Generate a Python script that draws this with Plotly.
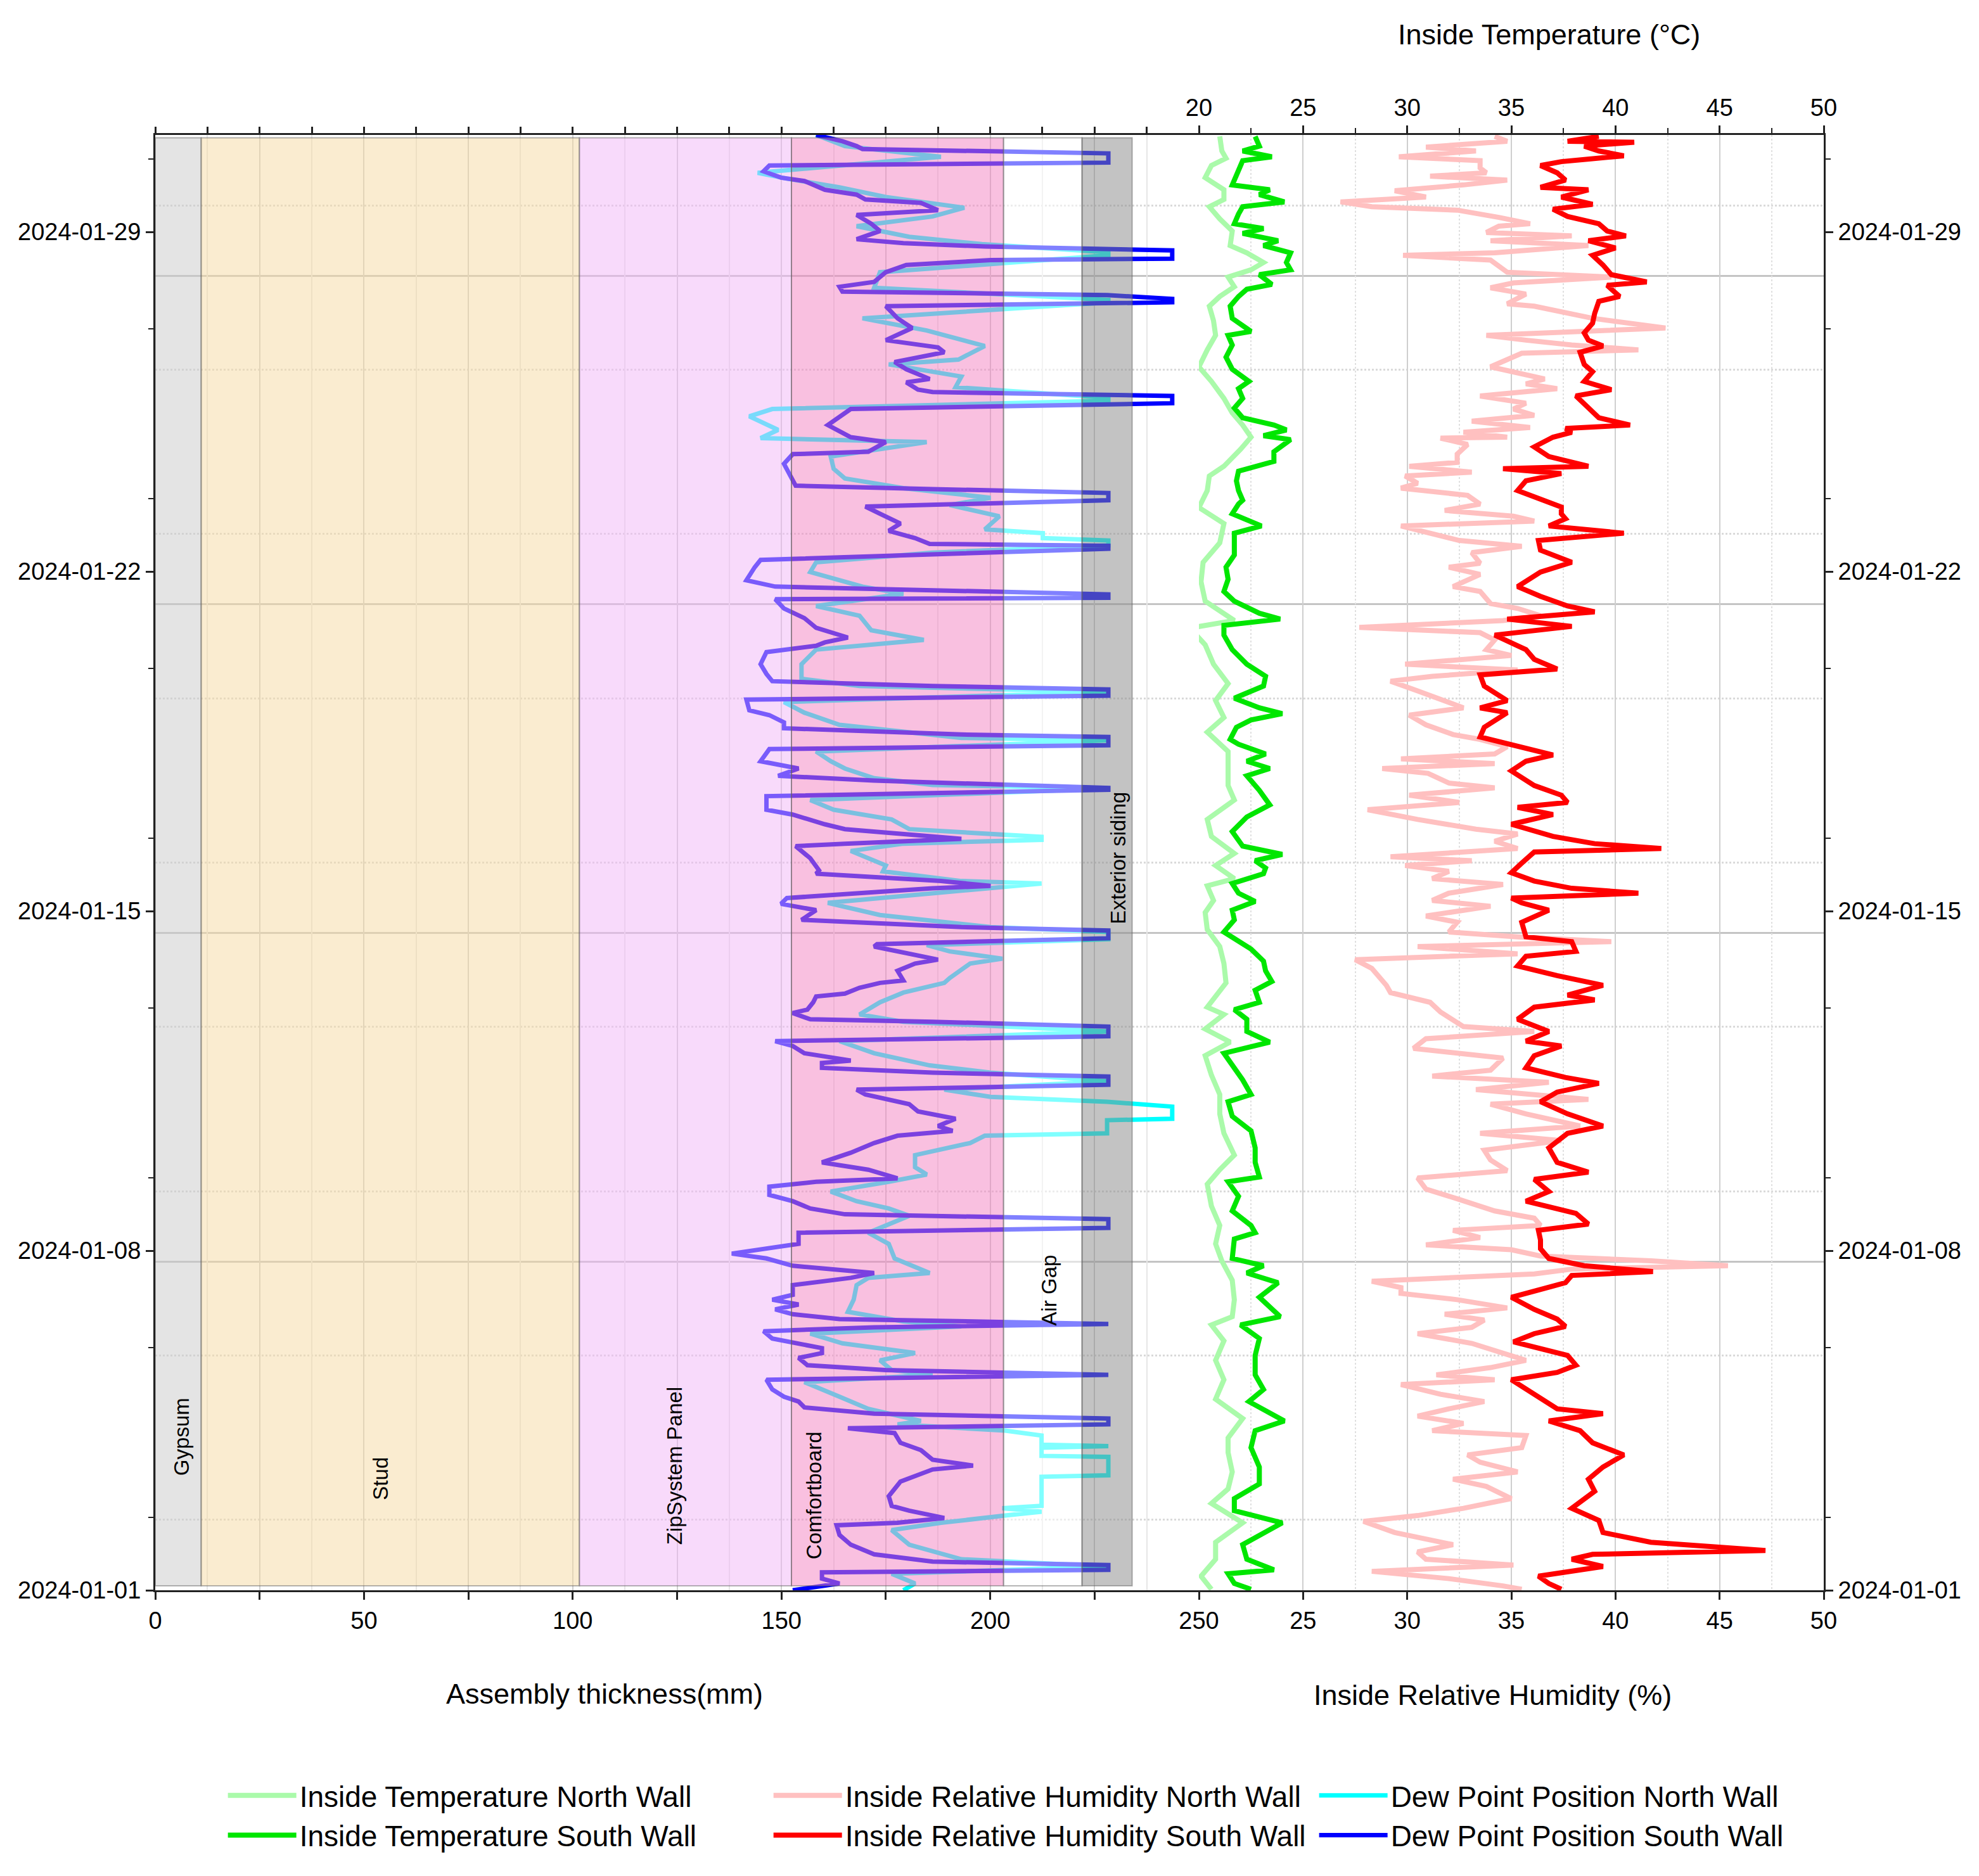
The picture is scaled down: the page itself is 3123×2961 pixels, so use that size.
import numpy as np
import pandas as pd
import plotly.graph_objects as go

# ---------------- data (day offset from 2024-01-01, value) ----------------
DEW_NORTH = [
    (30.00, 158.3), (29.77, 165.2), (29.55, 188.2), (29.22, 144.3), (29.10, 151.3), (28.92, 163.9),
    (28.72, 175.0), (28.50, 193.8), (28.32, 186.2), (28.12, 168.0), (27.90, 180.6), (27.75, 198.0),
    (27.58, 228.3), (27.52, 228.3), (27.17, 173.6), (26.85, 172.2), (26.60, 228.3), (26.55, 228.3),
    (26.22, 169.4), (25.97, 184.8), (25.65, 198.7), (25.37, 192.4), (25.27, 175.7), (25.02, 193.1),
    (24.80, 191.7), (24.58, 228.3), (24.52, 228.3), (24.35, 147.8), (24.20, 142.3), (23.92, 149.2),
    (23.75, 145.0), (23.67, 184.8), (23.37, 161.8), (23.12, 162.5), (22.92, 165.2), (22.72, 179.2),
    (22.52, 200.1), (22.37, 190.3), (22.14, 202.2), (21.87, 198.7), (21.79, 212.6), (21.69, 212.6),
    (21.64, 228.3), (21.54, 228.3), (21.39, 186.2), (21.19, 158.3), (20.99, 156.9), (20.69, 169.4),
    (20.54, 179.2), (20.29, 158.3), (20.09, 168.7), (19.79, 171.5), (19.59, 184.1), (19.39, 158.3),
    (19.09, 154.8), (18.79, 154.8), (18.64, 168.7), (18.52, 228.3), (18.31, 150.6), (18.09, 155.5),
    (17.84, 163.9), (17.69, 179.2), (17.57, 193.1), (17.52, 228.3), (17.29, 158.3), (17.09, 161.8),
    (16.94, 165.2), (16.74, 172.2), (16.60, 186.2), (16.53, 228.3), (16.29, 156.9), (16.09, 162.5),
    (15.89, 176.4), (15.69, 180.6), (15.56, 203.6), (15.53, 212.3), (15.47, 212.3), (15.39, 179.2),
    (15.24, 166.6), (14.94, 175.0), (14.82, 174.3), (14.62, 193.1), (14.57, 212.3), (14.47, 200.1),
    (14.17, 161.1), (13.92, 173.6), (13.82, 183.4), (13.67, 200.1), (13.57, 228.3), (13.42, 228.3),
    (13.30, 184.8), (13.17, 190.3), (13.02, 202.9), (12.92, 195.2), (12.62, 190.3), (12.52, 189.0),
    (12.32, 179.2), (12.12, 173.6), (11.87, 168.7), (11.72, 179.2), (11.52, 228.3), (11.32, 163.9),
    (11.07, 172.2), (10.82, 185.5), (10.67, 200.1), (10.49, 228.3), (10.32, 189.0), (10.17, 200.1),
    (10.07, 228.0), (9.97, 243.6), (9.72, 243.6), (9.69, 228.0), (9.42, 228.0), (9.37, 198.7),
    (9.22, 195.2), (8.97, 182.0), (8.72, 182.0), (8.57, 184.8), (8.42, 175.7), (8.22, 161.8),
    (8.02, 168.0), (7.87, 175.7), (7.72, 180.6), (7.37, 170.8), (7.14, 175.7), (6.84, 177.1),
    (6.54, 185.5), (6.44, 170.8), (6.29, 168.0), (5.99, 167.3), (5.74, 165.9), (5.54, 179.2),
    (5.44, 193.1), (5.29, 156.9), (5.09, 164.6), (4.89, 182.0), (4.74, 173.6), (4.54, 176.4),
    (4.44, 186.2), (4.29, 155.5), (3.99, 163.9), (3.74, 170.8), (3.49, 183.4), (3.42, 177.8),
    (3.29, 203.6), (3.19, 212.3), (3.00, 212.3), (2.97, 228.3), (2.94, 212.3), (2.77, 212.3),
    (2.75, 228.3), (2.37, 228.3), (2.34, 212.3), (1.74, 212.3), (1.69, 202.9), (1.62, 212.3),
    (1.54, 203.6), (1.39, 188.2), (1.24, 176.4), (0.94, 180.6), (0.64, 193.1), (0.49, 228.0),
    (0.34, 176.4), (0.14, 182.0), (0.00, 179.2),
]

DEW_SOUTH = [
    (30.00, 158.3), (29.87, 164.6), (29.77, 168.0), (29.71, 169.4), (29.62, 228.3), (29.43, 228.3),
    (29.37, 147.1), (29.25, 145.7), (29.12, 149.9), (29.05, 155.5), (28.87, 160.4), (28.77, 168.0),
    (28.67, 170.1), (28.60, 183.4), (28.45, 187.5), (28.35, 168.0), (28.17, 171.5), (28.02, 173.6),
    (27.85, 168.0), (27.77, 179.2), (27.70, 198.7), (27.62, 243.6), (27.45, 243.6), (27.42, 200.1),
    (27.32, 179.9), (27.17, 175.0), (26.97, 172.2), (26.87, 163.9), (26.77, 164.6), (26.70, 228.0),
    (26.62, 243.6), (26.55, 243.6), (26.47, 175.0), (26.22, 177.8), (26.02, 181.3), (25.77, 175.0),
    (25.62, 187.5), (25.52, 189.0), (25.32, 177.1), (25.17, 179.9), (24.97, 185.5), (24.90, 179.9),
    (24.75, 182.7), (24.70, 186.2), (24.62, 243.6), (24.47, 243.6), (24.35, 166.6), (24.02, 161.1),
    (23.77, 166.6), (23.67, 175.0), (23.47, 170.8), (23.42, 152.7), (23.22, 150.6), (22.97, 152.0),
    (22.77, 153.4), (22.70, 186.2), (22.62, 228.3), (22.47, 228.3), (22.34, 170.1), (22.19, 173.6),
    (21.99, 178.5), (21.84, 175.7), (21.69, 182.0), (21.57, 185.5), (21.53, 228.3), (21.47, 228.3),
    (21.24, 145.0), (21.09, 143.6), (20.82, 141.6), (20.69, 148.5), (20.62, 179.2), (20.53, 228.3),
    (20.46, 228.3), (20.43, 148.5), (20.24, 150.6), (20.04, 155.5), (19.84, 158.3), (19.64, 165.9),
    (19.54, 160.4), (19.47, 158.3), (19.34, 146.4), (19.09, 145.0), (18.89, 146.4), (18.74, 147.8),
    (18.64, 186.2), (18.57, 228.3), (18.44, 228.3), (18.36, 141.6), (18.14, 142.3), (18.04, 147.1),
    (17.89, 150.6), (17.77, 150.6), (17.64, 193.1), (17.59, 228.3), (17.42, 228.3), (17.34, 147.1),
    (17.09, 145.0), (16.94, 154.1), (16.79, 149.2), (16.69, 172.2), (16.54, 228.3), (16.50, 228.3),
    (16.37, 146.4), (16.09, 146.4), (15.99, 152.7), (15.79, 160.4), (15.69, 165.2), (15.54, 186.2),
    (15.49, 193.1), (15.39, 165.2), (15.34, 153.4), (15.09, 156.9), (14.84, 159.0), (14.77, 158.3),
    (14.62, 188.2), (14.52, 200.1), (14.47, 186.2), (14.27, 151.3), (14.15, 149.9), (14.02, 158.3),
    (13.82, 154.8), (13.67, 193.1), (13.60, 228.3), (13.44, 228.3), (13.32, 172.9), (13.27, 172.2),
    (13.12, 180.6), (13.00, 187.5), (12.92, 182.0), (12.77, 177.8), (12.57, 179.2), (12.52, 173.6),
    (12.42, 168.7), (12.30, 165.2), (12.24, 158.3), (12.12, 157.6), (11.97, 156.2), (11.90, 152.7),
    (11.77, 156.9), (11.72, 186.2), (11.62, 228.3), (11.42, 228.3), (11.32, 148.5), (11.22, 152.7),
    (11.07, 155.5), (10.92, 166.6), (10.87, 159.7), (10.77, 159.7), (10.67, 186.2), (10.59, 228.3),
    (10.42, 228.3), (10.32, 168.0), (10.22, 170.1), (10.02, 180.6), (9.87, 182.7), (9.72, 191.7),
    (9.57, 187.5), (9.47, 191.0), (9.37, 177.8), (9.22, 172.2), (9.02, 166.6), (8.82, 159.7),
    (8.67, 170.8), (8.49, 177.8), (8.42, 158.3), (8.32, 147.1), (8.15, 147.1), (8.02, 152.7),
    (7.87, 156.9), (7.75, 165.2), (7.65, 228.3), (7.47, 228.3), (7.37, 154.1), (7.14, 154.1),
    (6.94, 138.1), (6.84, 146.4), (6.69, 152.7), (6.54, 172.2), (6.44, 166.6), (6.29, 152.7),
    (6.09, 152.7), (5.99, 147.8), (5.89, 154.1), (5.79, 148.5), (5.69, 152.7), (5.59, 163.9),
    (5.49, 228.3), (5.42, 172.2), (5.34, 145.7), (5.19, 147.8), (4.99, 159.7), (4.89, 159.7),
    (4.79, 154.1), (4.64, 156.2), (4.54, 175.0), (4.44, 228.3), (4.34, 146.4), (4.14, 147.8),
    (3.99, 150.6), (3.89, 154.1), (3.77, 155.5), (3.64, 172.2), (3.54, 228.3), (3.42, 228.3),
    (3.34, 165.9), (3.24, 177.1), (3.04, 178.5), (2.89, 183.4), (2.69, 186.2), (2.57, 195.9),
    (2.49, 186.2), (2.24, 178.5), (1.94, 175.7), (1.74, 176.4), (1.64, 180.6), (1.49, 189.0),
    (1.39, 177.8), (1.34, 163.2), (1.14, 163.9), (0.94, 166.6), (0.74, 172.2), (0.59, 186.2),
    (0.52, 228.3), (0.42, 228.3), (0.37, 159.7), (0.24, 159.7), (0.14, 163.9), (0.07, 158.3),
    (0.00, 152.7),
]

TEMP_NORTH = [
    (29.97, 21.0), (29.67, 21.1), (29.52, 21.3), (29.37, 20.6), (29.12, 20.3), (28.87, 21.2),
    (28.67, 21.2), (28.52, 20.5), (28.27, 21.0), (28.02, 21.6), (27.72, 21.5), (27.57, 22.3),
    (27.37, 23.1), (27.22, 22.5), (27.07, 21.4), (26.87, 21.7), (26.67, 21.0), (26.47, 20.5),
    (26.17, 20.7), (25.87, 20.8), (25.57, 20.4), (25.22, 20.0), (24.92, 20.6), (24.57, 21.2),
    (24.27, 21.6), (24.02, 22.1), (23.77, 22.5), (23.52, 22.0), (23.17, 21.2), (22.97, 20.5),
    (22.67, 20.4), (22.32, 20.0), (21.99, 21.2), (21.59, 21.0), (21.19, 20.2), (20.79, 20.1),
    (20.39, 20.3), (19.99, 21.7), (19.86, 19.9), (19.77, 19.7), (19.49, 20.3), (19.09, 20.7),
    (18.69, 21.4), (18.34, 20.8), (17.99, 21.2), (17.69, 20.4), (17.29, 21.4), (16.99, 21.4),
    (16.59, 21.4), (16.29, 21.7), (15.89, 20.4), (15.54, 20.6), (15.19, 21.7), (14.94, 20.8),
    (14.67, 21.7), (14.52, 20.4), (14.22, 20.7), (13.97, 20.3), (13.62, 20.4), (13.27, 21.0),
    (12.92, 21.2), (12.52, 21.3), (12.02, 20.4), (11.87, 21.2), (11.57, 20.3), (11.30, 21.5),
    (11.02, 20.3), (10.62, 20.6), (10.22, 21.0), (9.82, 21.0), (9.42, 21.2), (8.97, 21.7),
    (8.67, 21.0), (8.37, 20.4), (7.92, 20.6), (7.52, 21.0), (7.14, 20.8), (6.79, 21.1),
    (6.39, 21.6), (5.99, 21.7), (5.64, 21.6), (5.47, 20.6), (5.14, 21.2), (4.74, 20.8),
    (4.34, 21.2), (3.94, 20.8), (3.54, 22.1), (3.14, 21.4), (2.84, 21.4), (2.44, 21.6),
    (2.09, 21.4), (1.79, 20.6), (1.39, 22.1), (0.99, 20.8), (0.64, 20.8), (0.29, 20.1),
    (0.02, 20.6),
]

TEMP_SOUTH = [
    (29.97, 22.7), (29.77, 22.9), (29.67, 22.1), (29.55, 23.5), (29.47, 22.1), (29.27, 21.9),
    (29.12, 21.7), (28.97, 21.6), (28.87, 23.4), (28.77, 22.9), (28.62, 24.1), (28.52, 22.1),
    (28.37, 21.9), (28.17, 21.7), (28.07, 23.1), (27.97, 22.1), (27.82, 23.8), (27.72, 23.1),
    (27.57, 24.4), (27.37, 24.2), (27.22, 24.4), (27.12, 22.9), (26.92, 23.5), (26.82, 22.3),
    (26.67, 21.9), (26.47, 21.5), (26.22, 21.6), (26.07, 22.1), (25.95, 22.5), (25.87, 21.4),
    (25.67, 21.6), (25.42, 21.3), (25.17, 21.6), (24.92, 22.4), (24.77, 21.9), (24.57, 22.1),
    (24.37, 21.7), (24.17, 22.1), (24.02, 23.6), (23.92, 24.2), (23.80, 23.1), (23.72, 24.4),
    (23.47, 23.6), (23.27, 23.6), (23.07, 21.9), (22.87, 21.8), (22.67, 21.9), (22.47, 22.1),
    (22.39, 21.9), (22.19, 21.6), (21.94, 23.0), (21.79, 21.7), (21.59, 21.7), (21.34, 21.7),
    (21.09, 21.3), (20.84, 21.4), (20.59, 21.2), (20.39, 21.7), (20.14, 22.9), (20.02, 23.9),
    (19.89, 21.2), (19.69, 21.2), (19.39, 21.6), (19.09, 22.3), (18.84, 23.2), (18.64, 23.1),
    (18.39, 21.7), (18.19, 22.9), (18.07, 24.0), (17.94, 22.5), (17.79, 21.8), (17.54, 21.5),
    (17.44, 21.9), (17.24, 23.2), (17.09, 22.3), (16.94, 23.4), (16.79, 22.3), (16.49, 22.9),
    (16.19, 23.4), (15.94, 22.3), (15.64, 21.6), (15.34, 22.1), (15.17, 24.0), (15.04, 22.7),
    (14.89, 23.2), (14.77, 23.1), (14.57, 21.6), (14.37, 21.9), (14.20, 22.7), (14.02, 21.6),
    (13.82, 21.7), (13.57, 21.2), (13.22, 22.5), (12.97, 23.1), (12.77, 23.2), (12.55, 23.5),
    (12.37, 22.7), (12.12, 22.9), (11.97, 21.7), (11.77, 22.3), (11.52, 22.3), (11.30, 23.4),
    (11.07, 21.2), (10.82, 21.6), (10.52, 22.1), (10.22, 22.5), (10.07, 21.4), (9.77, 21.6),
    (9.47, 22.5), (9.12, 22.7), (8.82, 22.7), (8.52, 22.9), (8.42, 21.4), (8.12, 21.9),
    (7.82, 21.6), (7.52, 22.5), (7.37, 22.7), (7.24, 21.7), (6.84, 21.6), (6.69, 23.1),
    (6.54, 22.3), (6.34, 23.8), (6.04, 22.9), (5.64, 23.9), (5.47, 22.0), (5.19, 22.9),
    (4.84, 22.7), (4.44, 22.7), (4.14, 23.1), (3.89, 22.4), (3.49, 24.1), (3.29, 22.7),
    (2.94, 22.5), (2.54, 22.9), (2.19, 22.9), (1.89, 21.7), (1.64, 21.7), (1.39, 24.0),
    (1.19, 23.1), (0.94, 22.1), (0.64, 22.3), (0.42, 23.6), (0.34, 21.4), (0.14, 21.7),
    (0.02, 22.5),
]

RH_NORTH = [
    (29.97, 34.2), (29.87, 34.8), (29.75, 30.9), (29.67, 33.3), (29.55, 29.6), (29.47, 33.5),
    (29.32, 33.5), (29.22, 33.8), (29.15, 31.1), (29.07, 34.8), (28.97, 32.7), (28.85, 29.4),
    (28.72, 30.9), (28.62, 26.8), (28.52, 28.3), (28.45, 32.4), (28.30, 34.4), (28.17, 35.9),
    (28.12, 34.4), (27.99, 33.8), (27.92, 37.9), (27.82, 34.0), (27.72, 38.7), (27.57, 34.2),
    (27.52, 29.8), (27.42, 34.0), (27.17, 34.8), (27.07, 39.8), (26.95, 35.1), (26.85, 34.0),
    (26.72, 35.7), (26.52, 34.8), (26.47, 36.1), (26.22, 38.9), (26.02, 42.4), (25.95, 38.1),
    (25.87, 33.8), (25.77, 35.7), (25.67, 37.9), (25.57, 41.1), (25.50, 35.5), (25.22, 34.0),
    (25.12, 35.1), (24.97, 36.6), (24.87, 35.7), (24.77, 37.2), (24.62, 33.5), (24.47, 35.7),
    (24.35, 35.1), (24.22, 36.1), (24.10, 33.1), (23.97, 35.9), (23.87, 32.7), (23.77, 34.8),
    (23.75, 31.6), (23.62, 32.9), (23.42, 32.4), (23.25, 32.4), (23.17, 30.1), (23.05, 33.1),
    (22.97, 29.9), (22.82, 30.5), (22.72, 29.7), (22.57, 32.9), (22.39, 33.5), (22.26, 31.8),
    (22.14, 35.1), (22.04, 36.1), (21.94, 29.7), (21.79, 31.2), (21.64, 32.5), (21.52, 35.5),
    (21.39, 33.1), (21.17, 33.5), (21.09, 32.0), (20.94, 33.5), (20.69, 32.2), (20.59, 33.5),
    (20.34, 34.0), (20.24, 35.3), (20.09, 36.4), (19.99, 34.6), (19.85, 27.7), (19.74, 33.5),
    (19.59, 34.2), (19.39, 33.8), (19.27, 35.0), (19.09, 29.9), (18.97, 35.3), (18.84, 31.2),
    (18.74, 29.2), (18.54, 30.5), (18.34, 31.8), (18.19, 32.7), (18.04, 30.1), (17.84, 30.9),
    (17.64, 32.2), (17.54, 33.5), (17.39, 34.8), (17.24, 34.2), (17.14, 29.7), (17.04, 34.2),
    (16.94, 28.8), (16.84, 31.0), (16.64, 32.0), (16.54, 34.2), (16.39, 30.1), (16.24, 32.5),
    (16.09, 28.1), (15.89, 30.5), (15.69, 33.3), (15.59, 35.3), (15.44, 34.2), (15.29, 35.3),
    (15.12, 29.2), (15.04, 33.1), (14.94, 29.9), (14.82, 32.0), (14.67, 31.2), (14.55, 34.6),
    (14.37, 32.0), (14.22, 31.2), (14.10, 34.0), (13.90, 30.9), (13.77, 32.4), (13.57, 32.0),
    (13.47, 35.3), (13.37, 39.8), (13.27, 30.5), (13.12, 35.3), (13.00, 27.5), (12.82, 28.3),
    (12.47, 29.0), (12.32, 29.2), (12.12, 31.1), (11.92, 31.6), (11.62, 32.7), (11.52, 36.1),
    (11.37, 30.9), (11.17, 30.3), (10.97, 34.6), (10.72, 34.0), (10.60, 31.2), (10.47, 36.8),
    (10.32, 33.3), (10.12, 38.7), (10.02, 34.0), (9.82, 35.7), (9.57, 38.3), (9.42, 33.5),
    (9.27, 37.4), (9.07, 33.7), (8.87, 34.0), (8.65, 34.8), (8.50, 30.5), (8.27, 30.9),
    (8.07, 32.4), (7.82, 34.2), (7.67, 36.1), (7.52, 36.4), (7.42, 32.2), (7.27, 33.5),
    (7.12, 30.9), (7.02, 35.0), (6.89, 36.4), (6.79, 41.7), (6.69, 45.4), (6.62, 37.9),
    (6.52, 36.1), (6.37, 28.3), (6.24, 29.7), (6.12, 29.7), (5.99, 32.4), (5.82, 34.8),
    (5.69, 31.8), (5.57, 33.7), (5.42, 33.1), (5.29, 30.5), (5.09, 33.1), (4.84, 35.0),
    (4.74, 35.7), (4.59, 34.0), (4.44, 31.4), (4.34, 34.2), (4.24, 29.7), (4.04, 31.6),
    (3.89, 33.7), (3.74, 32.0), (3.59, 30.5), (3.44, 32.7), (3.29, 31.2), (3.19, 35.7),
    (2.94, 35.5), (2.79, 32.9), (2.64, 33.5), (2.44, 35.3), (2.29, 32.2), (2.14, 33.8),
    (1.89, 35.0), (1.69, 32.7), (1.54, 30.5), (1.42, 27.9), (1.19, 29.4), (0.94, 32.2),
    (0.79, 30.5), (0.64, 30.9), (0.52, 35.1), (0.39, 28.3), (0.24, 32.0), (0.09, 34.6),
    (0.02, 35.5),
]

RH_SOUTH = [
    (29.97, 39.2), (29.87, 37.7), (29.85, 40.9), (29.77, 38.5), (29.67, 39.2), (29.57, 40.4),
    (29.45, 37.4), (29.37, 36.4), (29.22, 37.2), (29.07, 37.6), (28.92, 36.4), (28.87, 38.7),
    (28.72, 37.4), (28.57, 38.9), (28.47, 37.0), (28.32, 37.7), (28.17, 39.2), (28.02, 39.6),
    (27.92, 40.5), (27.82, 38.7), (27.67, 40.0), (27.52, 38.9), (27.32, 39.4), (27.12, 39.8),
    (26.97, 41.5), (26.90, 39.6), (26.67, 40.2), (26.57, 39.2), (26.32, 39.0), (26.12, 38.9),
    (25.92, 38.5), (25.77, 38.7), (25.65, 39.4), (25.52, 38.3), (25.27, 38.5), (25.12, 38.9),
    (24.92, 38.5), (24.75, 39.8), (24.62, 38.1), (24.37, 38.7), (24.17, 39.2), (24.02, 40.7),
    (23.95, 37.6), (23.87, 37.9), (23.77, 37.0), (23.57, 36.1), (23.37, 36.8), (23.17, 38.7),
    (23.12, 34.6), (23.02, 37.4), (22.87, 35.7), (22.67, 35.3), (22.47, 36.6), (22.33, 37.4),
    (22.19, 37.4), (22.09, 37.6), (21.94, 36.8), (21.79, 40.4), (21.64, 36.3), (21.44, 36.4),
    (21.19, 37.9), (20.99, 36.4), (20.69, 35.3), (20.49, 36.4), (20.29, 37.7), (20.17, 39.0),
    (20.02, 34.8), (19.87, 37.9), (19.69, 34.2), (19.39, 35.7), (19.19, 36.1), (18.99, 37.2),
    (18.87, 33.5), (18.64, 33.7), (18.34, 34.8), (18.19, 33.5), (18.09, 34.8), (17.79, 33.7),
    (17.59, 33.5), (17.39, 35.3), (17.22, 37.0), (17.09, 35.7), (16.89, 35.0), (16.59, 36.1),
    (16.39, 37.4), (16.24, 37.7), (16.14, 35.3), (15.99, 37.0), (15.79, 35.0), (15.54, 37.0),
    (15.39, 39.0), (15.29, 42.2), (15.22, 36.1), (14.99, 35.5), (14.79, 35.0), (14.62, 36.1),
    (14.47, 37.9), (14.37, 41.1), (14.27, 35.0), (14.17, 35.5), (14.02, 36.8), (13.77, 35.5),
    (13.47, 35.7), (13.37, 37.9), (13.17, 38.1), (13.07, 35.7), (12.87, 35.3), (12.67, 37.2),
    (12.47, 39.4), (12.27, 37.7), (12.17, 39.0), (12.02, 36.1), (11.77, 35.3), (11.52, 36.8),
    (11.32, 35.7), (11.22, 37.4), (11.02, 36.1), (10.77, 35.7), (10.57, 37.6), (10.45, 39.2),
    (10.27, 37.2), (10.07, 36.4), (9.82, 37.7), (9.57, 39.4), (9.42, 37.7), (9.12, 36.8),
    (8.82, 37.2), (8.62, 38.7), (8.47, 36.1), (8.22, 36.8), (8.02, 35.7), (7.77, 38.1),
    (7.55, 38.7), (7.42, 36.3), (7.22, 36.4), (7.04, 36.4), (6.84, 36.8), (6.69, 38.5),
    (6.57, 41.8), (6.49, 37.9), (6.34, 37.6), (6.19, 36.3), (6.04, 35.0), (5.79, 36.1),
    (5.59, 37.2), (5.44, 37.6), (5.29, 36.1), (5.12, 35.1), (4.84, 37.7), (4.64, 38.1),
    (4.49, 37.2), (4.34, 35.0), (4.04, 36.1), (3.74, 37.2), (3.64, 39.4), (3.49, 36.8),
    (3.29, 38.3), (3.04, 38.9), (2.79, 40.4), (2.54, 39.4), (2.29, 38.7), (2.04, 39.0),
    (1.69, 37.9), (1.44, 39.2), (1.19, 39.4), (0.99, 41.7), (0.82, 47.2), (0.74, 38.9),
    (0.64, 37.9), (0.49, 39.4), (0.29, 36.3), (0.14, 36.8), (0.02, 37.4),
]

# assembly layers (mm)
LAYER_NAMES = ["Gypsum", "Stud", "ZipSystem Panel", "Comfortboard", "Air Gap", "Exterior siding"]
LAYER_START = [0, 11, 101.6, 152.4, 203.2, 222]
LAYER_END = [11, 101.6, 152.4, 203.2, 222, 234]
LAYER_FILL = ["rgba(201,201,201,0.5)", "rgba(245,217,161,0.5)", "rgba(241,181,247,0.5)",
              "rgba(243,129,193,0.5)", "rgba(255,255,255,0.5)", "rgba(135,135,135,0.5)"]
LABEL_X = [6.2, 54, 124.5, 157.9, 214.1, 230.7]
LABEL_DAY = [3.17, 2.30, 2.56, 1.96, 6.19, 15.1]

MM_TICKS = [0, 25, 50, 75, 100, 125, 150, 175, 200, 225, 250]
MM_TICKTEXT = ["0", "", "50", "", "100", "", "150", "", "200", "", "250"]
RH_TICKS = [25, 30, 35, 40, 45, 50]
T_TICKS = [20, 25, 30, 35, 40, 45, 50]

START = "2024-01-01"
END = "2024-01-31"
GRID_END = "2024-02-01"
DAY = 86400000

# ---------------- helpers ----------------
T0 = pd.Timestamp(START)


def split(series):
    days = np.array([p[0] for p in series])
    vals = np.array([p[1] for p in series])
    return T0 + pd.to_timedelta(days, unit="D"), vals


FONT = "Arial, Liberation Sans, sans-serif"
D = 1647 / 2633  # boundary between thickness axis and temperature/RH axis

fig = go.Figure()

# grid carrier (full-width horizontal grid)
fig.add_trace(go.Scatter(x=[], y=[], xaxis="x", yaxis="y", showlegend=False, hoverinfo="skip"))

series = [
    ("Dew Point Position North Wall", DEW_NORTH, "x2", "#00FFFF", 7, 3),
    ("Dew Point Position South Wall", DEW_SOUTH, "x2", "#0000FF", 7, 6),
    ("Inside Temperature North Wall", TEMP_NORTH, "x3", "rgb(170,250,170)", 8, 1),
    ("Inside Temperature South Wall", TEMP_SOUTH, "x3", "#00E600", 8, 4),
    ("Inside Relative Humidity North Wall", RH_NORTH, "x3", "rgb(255,192,192)", 8, 2),
    ("Inside Relative Humidity South Wall", RH_SOUTH, "x3", "#FF0000", 8, 5),
]
for name, data, xa, color, w, rank in series:
    t, v = split(data)
    fig.add_trace(go.Scatter(x=v, y=t, xaxis=xa, yaxis="y2", mode="lines", name=name,
                             line=dict(color=color, width=w), legendrank=rank))

# carriers for secondary axes
fig.add_trace(go.Scatter(x=[], y=[], xaxis="x4", yaxis="y2", showlegend=False, hoverinfo="skip"))
fig.add_trace(go.Scatter(x=[], y=[], xaxis="x5", yaxis="y2", showlegend=False, hoverinfo="skip"))
fig.add_trace(go.Scatter(x=[], y=[], xaxis="x3", yaxis="y3", showlegend=False, hoverinfo="skip"))

# layer rectangles drawn above the lines (semi-transparent)
shapes = []
for x0, x1, fc in zip(LAYER_START, LAYER_END, LAYER_FILL):
    shapes.append(dict(type="rect", xref="x2", yref="paper", x0=x0, x1=x1, y0=0.003, y1=0.998,
                       fillcolor=fc, line=dict(color="rgba(90,90,90,0.45)", width=2), layer="above"))

annotations = []
for name, lx, ld in zip(LAYER_NAMES, LABEL_X, LABEL_DAY):
    annotations.append(dict(x=lx, y=T0 + pd.Timedelta(days=ld), xref="x2", yref="y2", text=name,
                            textangle=-90, showarrow=False, font=dict(size=33, color="black", family=FONT)))

annotations += [
    dict(text="Assembly thickness(mm)", x=0.2691, y=-0.0710, xref="paper", yref="paper",
         showarrow=False, font=dict(size=45, color="black", family=FONT), xanchor="center", yanchor="middle"),
    dict(text="Inside Relative Humidity (%)", x=0.8017, y=-0.0722, xref="paper", yref="paper",
         showarrow=False, font=dict(size=45, color="black", family=FONT), xanchor="center", yanchor="middle"),
    dict(text="Inside Temperature (°C)", x=0.8355, y=1.0688, xref="paper", yref="paper",
         showarrow=False, font=dict(size=45, color="black", family=FONT), xanchor="center", yanchor="middle"),
]

tickfont = dict(size=38, color="black", family=FONT)
axline = dict(showline=True, linecolor="#222222", linewidth=3, zeroline=False)

fig.update_layout(
    width=3123, height=2961,
    margin=dict(l=237, r=253, t=205, b=459),
    paper_bgcolor="white", plot_bgcolor="rgba(0,0,0,0)",
    font=dict(family=FONT, color="black"),
    shapes=shapes, annotations=annotations,
    xaxis=dict(domain=[0, 1], range=[0, 1], visible=False, anchor="y", fixedrange=True),
    yaxis=dict(domain=[0, 1], type="date", range=[START, GRID_END], anchor="x",
               tick0=START, dtick=7 * DAY, showgrid=True, gridcolor="#c4c4c4", gridwidth=3,
               showticklabels=False, ticks="", showline=False, zeroline=False,
               minor=dict(dtick=3.5 * DAY, showgrid=True, gridcolor="#dadada", gridwidth=3, griddash="dot")),
    xaxis2=dict(domain=[0, D], range=[0, 250], anchor="y2", side="bottom",
                tickmode="array", tickvals=MM_TICKS, ticktext=MM_TICKTEXT,
                showgrid=True, gridcolor="#cfcfcf", gridwidth=2,
                minor=dict(dtick=12.5, showgrid=True, gridcolor="#e6e6e6", gridwidth=2, ticks=""),
                ticks="outside", ticklen=12, tickwidth=3, tickcolor="#222222",
                tickfont=tickfont, **axline),
    xaxis3=dict(domain=[D, 1], range=[20, 50], anchor="y2", side="bottom",
                tickmode="array", tickvals=RH_TICKS,
                showgrid=True, gridcolor="#cfcfcf", gridwidth=2,
                minor=dict(dtick=2.5, showgrid=True, gridcolor="#e0e0e0", gridwidth=2, griddash="dot", ticks=""),
                ticks="outside", ticklen=12, tickwidth=3, tickcolor="#222222",
                tickfont=tickfont, **axline),
    xaxis4=dict(overlaying="x3", range=[20, 50], anchor="y2", side="top",
                tickmode="array", tickvals=T_TICKS, showgrid=False,
                minor=dict(dtick=2.5, ticks="outside", ticklen=8, tickwidth=2, tickcolor="#222222", showgrid=False),
                ticks="outside", ticklen=12, tickwidth=3, tickcolor="#222222",
                tickfont=tickfont, **axline),
    xaxis5=dict(overlaying="x2", range=[0, 250], anchor="y2", side="top",
                tick0=0, dtick=12.5, showticklabels=False, showgrid=False,
                ticks="outside", ticklen=10, tickwidth=3, tickcolor="#222222", **axline),
    yaxis2=dict(domain=[0, 1], type="date", range=[START, END], anchor="x2", side="left",
                tick0=START, dtick=7 * DAY, tickformat="%Y-%m-%d", showgrid=False,
                ticks="outside", ticklen=12, tickwidth=3, tickcolor="#222222",
                minor=dict(dtick=3.5 * DAY, ticks="outside", ticklen=8, tickwidth=2, tickcolor="#222222"),
                tickfont=tickfont, **axline),
    yaxis3=dict(overlaying="y2", type="date", range=[START, END], anchor="x3", side="right",
                tick0=START, dtick=7 * DAY, tickformat="%Y-%m-%d", showgrid=False,
                ticks="outside", ticklen=12, tickwidth=3, tickcolor="#222222",
                minor=dict(dtick=3.5 * DAY, ticks="outside", ticklen=8, tickwidth=2, tickcolor="#222222"),
                tickfont=tickfont, **axline),
    legend=dict(orientation="h", xref="container", yref="container", x=0.111, y=0.058,
                xanchor="left", yanchor="top", font=dict(size=46, color="black", family=FONT),
                itemwidth=108, entrywidth=738, entrywidthmode="pixels",
                bgcolor="rgba(0,0,0,0)", tracegroupgap=0),
    showlegend=True,
)

fig.write_html("out.html")
